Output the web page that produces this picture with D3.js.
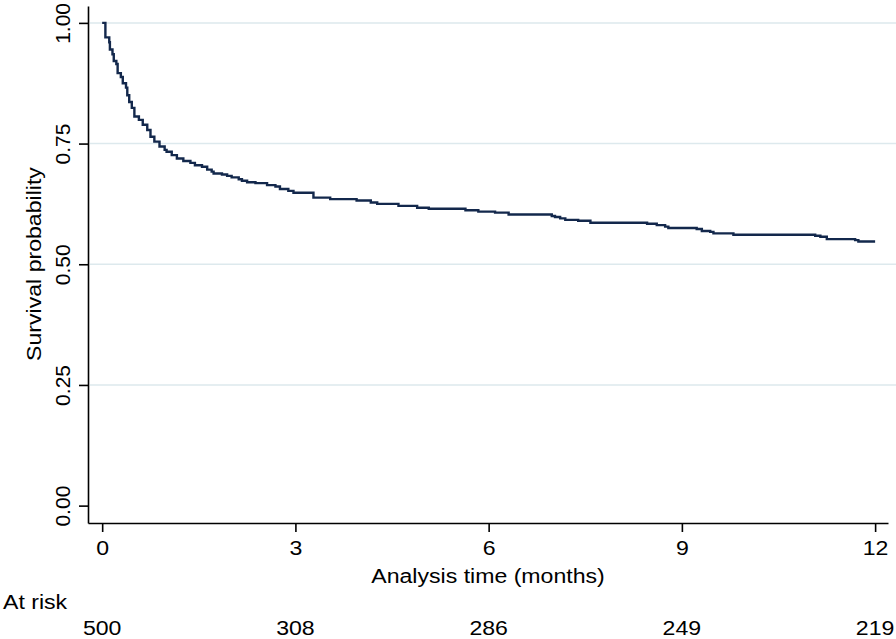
<!DOCTYPE html>
<html>
<head>
<meta charset="utf-8">
<script src="https://cdn.jsdelivr.net/npm/d3@7"></script>
<style>
  body { margin: 0; background: #fff; }
  svg text { font-family: "Liberation Sans", Arial, sans-serif; fill: #000; }
</style>
</head>
<body>
<div id="chart"></div>
<script>
// Kaplan-Meier estimate (months, survival)
const times = [0, 0.05, 0.11, 0.12, 0.16, 0.18, 0.22, 0.24, 0.29, 0.32, 0.37, 0.39, 0.42, 0.46, 0.50,
  0.57, 0.63, 0.70, 0.75, 0.81, 0.89, 0.97, 1.00, 1.08, 1.16, 1.26, 1.37, 1.44, 1.55, 1.63, 1.70,
  1.73, 1.86, 1.94, 2.01, 2.12, 2.17, 2.25, 2.38, 2.56, 2.69, 2.76, 2.89, 2.97, 3.28, 3.54, 3.95,
  4.17, 4.27, 4.60, 4.89, 5.07, 5.64, 5.84, 6.10, 6.31, 6.98, 7.03, 7.11, 7.19, 7.39, 7.58, 8.46,
  8.61, 8.74, 8.79, 9.23, 9.31, 9.44, 9.49, 9.80, 11.07, 11.15, 11.25, 11.69, 11.74, 12.00];
const survival = [1.000, 0.970, 0.960, 0.945, 0.935, 0.921, 0.915, 0.896, 0.888, 0.875, 0.866, 0.850, 0.836, 0.824, 0.806,
  0.799, 0.789, 0.778, 0.764, 0.754, 0.744, 0.737, 0.733, 0.726, 0.719, 0.714, 0.710, 0.705, 0.702, 0.696, 0.692,
  0.688, 0.686, 0.683, 0.680, 0.676, 0.673, 0.670, 0.668, 0.664, 0.661, 0.656, 0.652, 0.648, 0.638, 0.635, 0.632,
  0.628, 0.625, 0.621, 0.617, 0.615, 0.612, 0.609, 0.607, 0.603, 0.600, 0.598, 0.595, 0.592, 0.590, 0.586, 0.584,
  0.581, 0.578, 0.575, 0.573, 0.569, 0.567, 0.564, 0.561, 0.559, 0.557, 0.552, 0.550, 0.547, 0.547];

const xTicks = [0, 3, 6, 9, 12];
const yTicks = [0, 0.25, 0.5, 0.75, 1];
const atRisk = [500, 308, 286, 249, 219];

const width = 896, height = 639;
const stretch = 1.1; // picture is a little wider than tall

const svg = d3.select("#chart").append("svg")
  .attr("width", width)
  .attr("height", height);

const x = d3.scaleLinear().domain([-0.22, 12.2]).range([88, 888]);
const y = d3.scaleLinear().domain([-0.036, 1.035]).range([523, 6]);

// gridlines (not at 0)
svg.append("g")
  .selectAll("line")
  .data(yTicks.filter(d => d > 0))
  .enter().append("line")
  .attr("x1", 90).attr("x2", width)
  .attr("y1", d => y(d)).attr("y2", d => y(d))
  .attr("stroke", "#dde9ed")
  .attr("stroke-width", 1.5);

// y axis
const yAxis = svg.append("g")
  .attr("transform", "translate(88,0)")
  .call(d3.axisLeft(y).tickValues(yTicks).tickSize(9).tickSizeOuter(0).tickFormat(d3.format(".2f")));
yAxis.selectAll("path, line").attr("stroke", "#000").attr("stroke-width", 1.6);
yAxis.selectAll("text")
  .attr("x", null).attr("dy", null)
  .attr("text-anchor", "middle")
  .attr("transform", "translate(-18,0) rotate(-90)")
  .style("font-size", "21px");

// x axis
const xAxis = svg.append("g")
  .attr("transform", "translate(0,523)")
  .call(d3.axisBottom(x).tickValues(xTicks).tickSize(9).tickSizeOuter(0));
xAxis.selectAll("path, line").attr("stroke", "#000").attr("stroke-width", 1.6);
xAxis.selectAll("text")
  .attr("dy", null)
  .attr("y", 32)
  .attr("transform", `scale(${stretch},1)`)
  .style("font-size", "21px");

// axis titles
svg.append("text")
  .attr("text-anchor", "middle")
  .attr("transform", `translate(488,583) scale(${stretch},1)`)
  .style("font-size", "21px")
  .text("Analysis time (months)");

svg.append("text")
  .attr("text-anchor", "middle")
  .attr("transform", `translate(41,264) rotate(-90) scale(${stretch},1)`)
  .style("font-size", "21px")
  .text("Survival probability");

// survival curve
const pts = times.map((t, i) => [t, survival[i]]);
svg.append("path")
  .datum(pts)
  .attr("fill", "none")
  .attr("stroke", "#13284c")
  .attr("stroke-width", 2.4)
  .attr("d", d3.line().x(d => x(d[0])).y(d => y(d[1])).curve(d3.curveStepAfter));

// number at risk
svg.append("text")
  .attr("transform", `translate(3,609) scale(${stretch},1)`)
  .style("font-size", "21px")
  .text("At risk");

svg.append("g")
  .selectAll("text")
  .data(xTicks)
  .enter().append("text")
  .attr("text-anchor", "middle")
  .attr("transform", d => `translate(${x(d)},635) scale(${stretch},1)`)
  .style("font-size", "21px")
  .text((d, i) => atRisk[i]);
</script>
</body>
</html>
